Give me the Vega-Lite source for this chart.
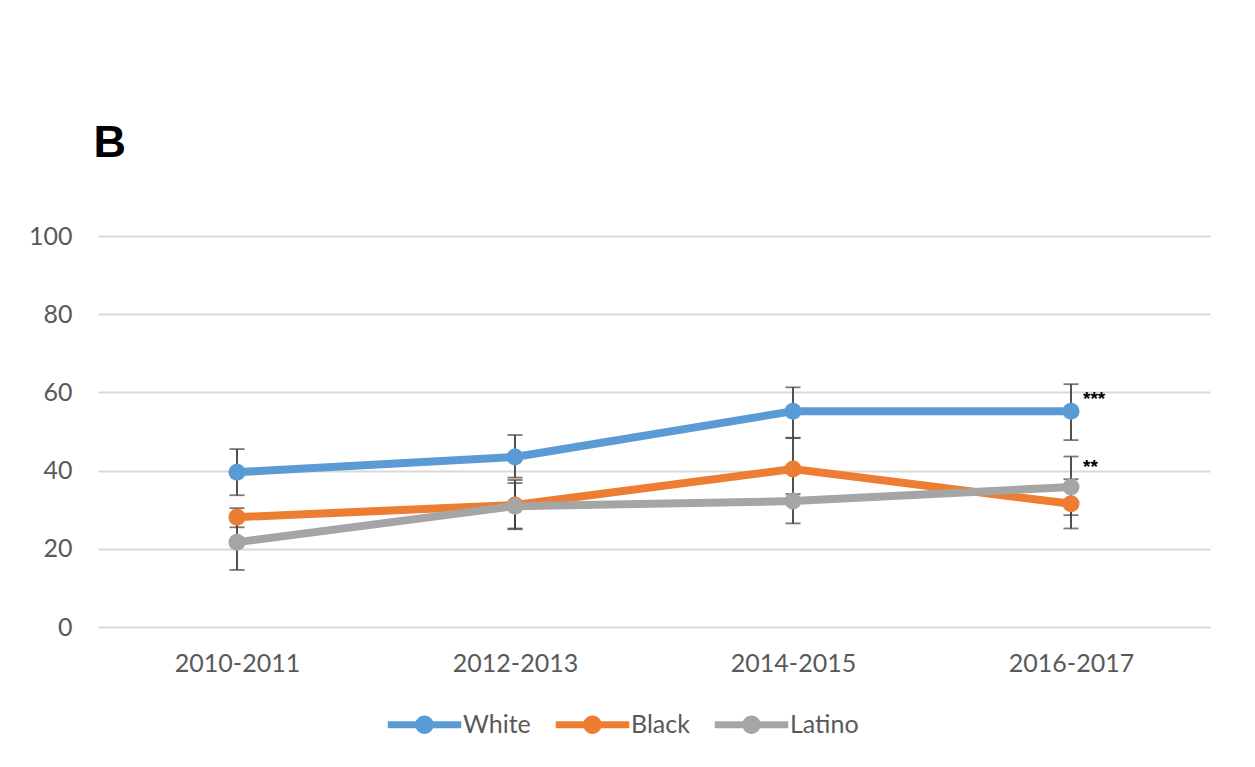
{
  "$schema": "https://vega.github.io/schema/vega-lite/v6.json",
  "width": 1112,
  "height": 391,
  "autosize": {"type": "none"},
  "padding": {"left": 98, "top": 236, "right": 45, "bottom": 140},
  "background": "white",
  "title": {
    "text": "B",
    "anchor": "start",
    "font": "Liberation Sans",
    "fontSize": 45,
    "fontWeight": "bold",
    "color": "black",
    "offset": 58,
    "dx": 65
  },
  "datasets": {
    "rates": [
      {"group": "White", "period": "2010-2011", "value": 39.6, "lo": 33.7, "hi": 45.5},
      {"group": "White", "period": "2012-2013", "value": 43.5, "lo": 38.2, "hi": 49.1},
      {"group": "White", "period": "2014-2015", "value": 55.2, "lo": 48.4, "hi": 61.3},
      {"group": "White", "period": "2016-2017", "value": 55.2, "lo": 47.8, "hi": 62.1},
      {"group": "Black", "period": "2010-2011", "value": 28.1, "lo": 25.5, "hi": 30.4},
      {"group": "Black", "period": "2012-2013", "value": 31.2, "lo": 25.0, "hi": 37.6},
      {"group": "Black", "period": "2014-2015", "value": 40.4, "lo": 32.3, "hi": 48.3},
      {"group": "Black", "period": "2016-2017", "value": 31.5, "lo": 25.2, "hi": 37.8},
      {"group": "Latino", "period": "2010-2011", "value": 21.7, "lo": 14.6, "hi": 28.0},
      {"group": "Latino", "period": "2012-2013", "value": 30.9, "lo": 25.2, "hi": 36.8},
      {"group": "Latino", "period": "2014-2015", "value": 32.2, "lo": 26.5, "hi": 34.0},
      {"group": "Latino", "period": "2016-2017", "value": 35.8, "lo": 28.6, "hi": 43.6}
    ],
    "marks": [
      {"period": "2016-2017", "value": 58.2, "label": "***"},
      {"period": "2016-2017", "value": 40.8, "label": "**"}
    ]
  },
  "encoding": {
    "x": {
      "field": "period",
      "type": "ordinal",
      "scale": {"type": "point", "padding": 0.5},
      "axis": {
        "title": null,
        "labelAngle": 0,
        "domain": false,
        "ticks": false,
        "labelFont": "Lato",
        "labelFontSize": 25,
        "labelColor": "#595959",
        "labelPadding": 24
      }
    }
  },
  "layer": [
    {
      "data": {"name": "rates"},
      "mark": {"type": "rule", "color": "#404040", "strokeWidth": 1.8},
      "encoding": {
        "y": {
          "field": "lo",
          "type": "quantitative",
          "scale": {"domain": [0, 100]},
          "axis": {
            "title": null,
            "values": [0, 20, 40, 60, 80, 100],
            "domain": false,
            "ticks": false,
            "grid": true,
            "gridColor": "#d9d9d9",
            "gridWidth": 2,
            "labelFont": "Lato",
            "labelFontSize": 25,
            "labelColor": "#595959",
            "labelPadding": 26
          }
        },
        "y2": {"field": "hi"}
      }
    },
    {
      "data": {"name": "rates"},
      "mark": {"type": "tick", "color": "#404040", "size": 15, "thickness": 1.8},
      "encoding": {"y": {"field": "lo", "type": "quantitative"}}
    },
    {
      "data": {"name": "rates"},
      "mark": {"type": "tick", "color": "#404040", "size": 15, "thickness": 1.8},
      "encoding": {"y": {"field": "hi", "type": "quantitative"}}
    },
    {
      "data": {"name": "rates"},
      "mark": {"type": "line", "strokeWidth": 8},
      "encoding": {
        "y": {"field": "value", "type": "quantitative"},
        "color": {
          "field": "group",
          "type": "nominal",
          "scale": {
            "domain": ["White", "Black", "Latino"],
            "range": ["#5b9bd5", "#ed7d31", "#a5a5a5"]
          },
          "legend": {
            "title": null,
            "orient": "none",
            "direction": "horizontal",
            "legendX": 290,
            "legendY": 476,
            "padding": 0,
            "symbolType": "M -3 -0.28 H 3 V 0.28 H -3 Z M 0.75 0 A 0.75 0.75 0 1 1 -0.75 0 A 0.75 0.75 0 1 1 0.75 0 Z",
            "symbolSize": 600,
            "symbolStrokeWidth": 0,
            "symbolOffset": 24,
            "labelFont": "Lato",
            "labelFontSize": 25,
            "labelColor": "#595959",
            "labelOffset": 26,
            "columnPadding": 24,
            "encode": {
              "symbols": {
                "update": {
                  "fill": {"scale": "color", "field": "value"},
                  "stroke": {"value": "transparent"},
                  "opacity": {"value": 1}
                }
              }
            }
          }
        },
        "order": {"field": "period"}
      }
    },
    {
      "data": {"name": "rates"},
      "mark": {"type": "circle", "size": 290, "opacity": 1},
      "encoding": {
        "y": {"field": "value", "type": "quantitative"},
        "color": {"field": "group", "type": "nominal"}
      }
    },
    {
      "data": {"name": "marks"},
      "mark": {
        "type": "text",
        "align": "left",
        "baseline": "middle",
        "dx": 12,
        "font": "Liberation Sans",
        "fontSize": 19,
        "fontWeight": "bold",
        "color": "black"
      },
      "encoding": {
        "y": {"field": "value", "type": "quantitative"},
        "text": {"field": "label"}
      }
    }
  ],
  "config": {"view": {"stroke": null}}
}
